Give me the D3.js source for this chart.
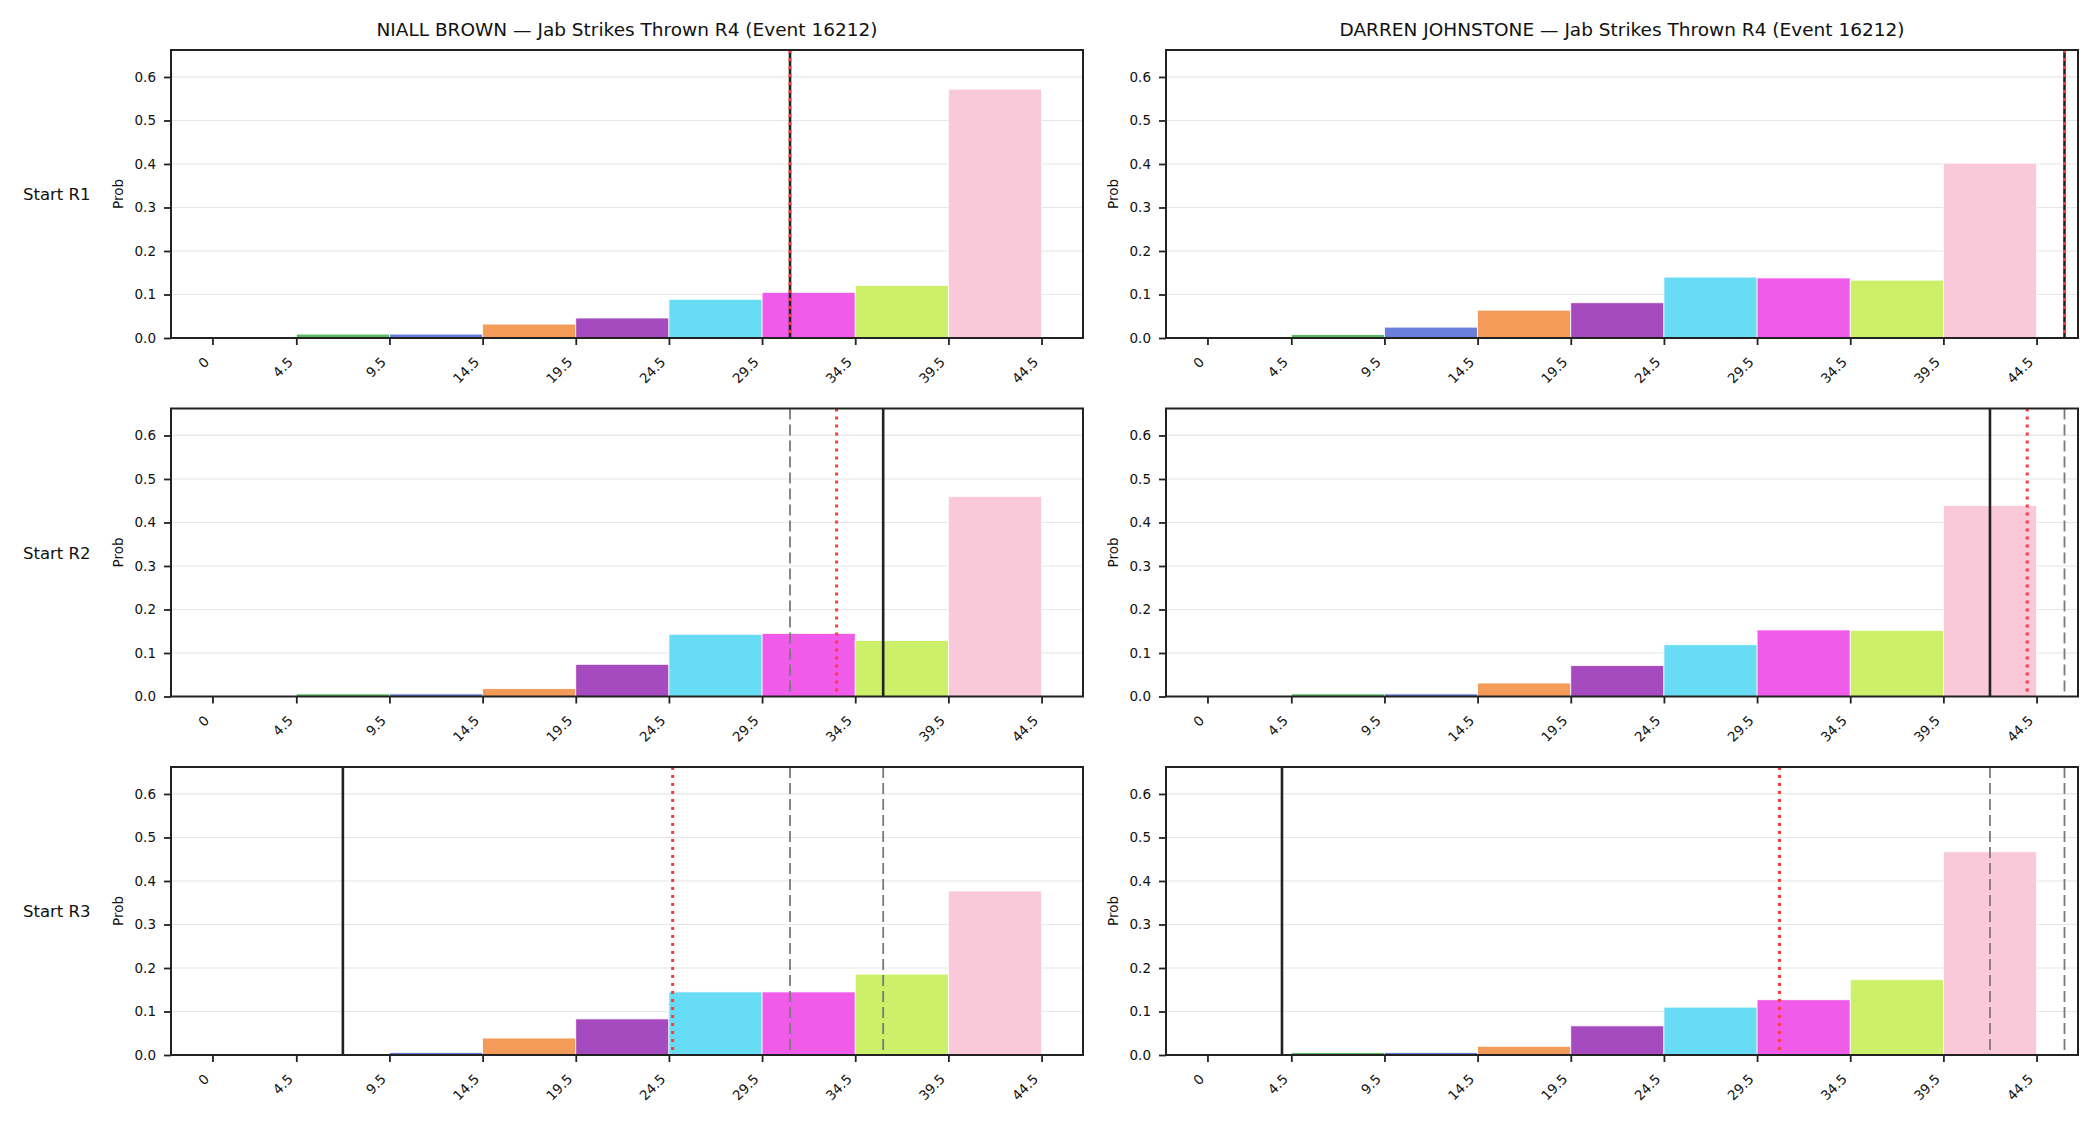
<!DOCTYPE html>
<html>
<head>
<meta charset="utf-8">
<script src="https://cdn.jsdelivr.net/npm/d3@7"></script>
<style>
    body { margin: 0; background: #fff; }
    svg { display: block; font-family: "DejaVu Sans", sans-serif; }
</style>
</head>
<body>
<div id="chart"></div>
<script>
// Bin edges of the histogram (first bin 0-4.5, then 5-wide bins)
const binEdges = [0, 4.5, 9.5, 14.5, 19.5, 24.5, 29.5, 34.5, 39.5, 44.5];
const tickValues = [0, 4.5, 9.5, 14.5, 19.5, 24.5, 29.5, 34.5, 39.5, 44.5];
const yTicks = [0, 0.1, 0.2, 0.3, 0.4, 0.5, 0.6];
const binColors = ["#9aa0a6", "#5dbb63", "#6a7fdb", "#f59b5a", "#a64bbf", "#68dbf5", "#f15bea", "#cdf06a", "#f9c9da"];

const fighters = ["NIALL BROWN", "DARREN JOHNSTONE"];
const rounds = ["Start R1", "Start R2", "Start R3"];

// Probability per bin, one list per fighter and round
const brownR1 = [0, 0.009, 0.009, 0.032, 0.046, 0.089, 0.105, 0.121, 0.572];
const brownR2 = [0, 0.006, 0.006, 0.018, 0.074, 0.143, 0.145, 0.129, 0.460];
const brownR3 = [0, 0, 0.006, 0.039, 0.083, 0.145, 0.145, 0.186, 0.377];
const johnstoneR1 = [0, 0.008, 0.025, 0.064, 0.081, 0.140, 0.138, 0.133, 0.402];
const johnstoneR2 = [0, 0.006, 0.006, 0.031, 0.071, 0.119, 0.153, 0.152, 0.439];
const johnstoneR3 = [0, 0.006, 0.006, 0.020, 0.067, 0.110, 0.127, 0.173, 0.467];

// Vertical markers: current line (solid) and projection (red dotted) per round
const brownCurrent = [31, 36, 7];
const brownProjected = [31, 33.5, 24.7];
const johnstoneCurrent = [46, 42, 4];
const johnstoneProjected = [46, 44, 30.7];

const probs = [[brownR1, brownR2, brownR3], [johnstoneR1, johnstoneR2, johnstoneR3]];
const currents = [brownCurrent, johnstoneCurrent];
const projections = [brownProjected, johnstoneProjected];

const width = 2100, height = 1125;
const colX = [171, 1166];
const rowY = [50, 408.5, 767];
const panelW = 912, panelH = 288;
const spineColor = "#222";

const svg = d3.select("#chart")
    .append("svg")
    .attr("width", width)
    .attr("height", height)
    .attr("viewBox", [0, 0, width, height]);

const x = d3.scaleLinear()
    .domain([-2.225, 46.725])
    .range([0, panelW]);

const y = d3.scaleLinear()
    .domain([0, 0.662])
    .range([panelH, 0]);

const drawPanel = (col, row) => {
    const data = probs[col][row];
    const bins = data.map((p, i) => ({
        x0: binEdges[i],
        x1: i + 1 < binEdges.length ? binEdges[i + 1] : binEdges[i] + 5,
        p,
        color: binColors[i]
    }));

    const g = svg.append("g")
        .attr("transform", `translate(${colX[col]},${rowY[row]})`);

    // horizontal grid
    g.append("g")
        .selectAll("line")
        .data(yTicks)
        .join("line")
        .attr("x1", 0)
        .attr("x2", panelW)
        .attr("y1", d => y(d))
        .attr("y2", d => y(d))
        .attr("stroke", "#e6e6e6")
        .attr("stroke-width", 1.2);

    // bars
    g.append("g")
        .selectAll("rect")
        .data(bins.filter(d => d.p > 0))
        .join("rect")
        .attr("x", d => x(d.x0))
        .attr("y", d => y(d.p))
        .attr("width", d => x(d.x1) - x(d.x0))
        .attr("height", d => y(0) - y(d.p))
        .attr("fill", d => d.color)
        .attr("stroke", "#fff")
        .attr("stroke-width", 0.8);

    // previous rounds' lines (gray dashed)
    const previous = currents[col].slice(0, row);
    g.append("g")
        .selectAll("line")
        .data(previous)
        .join("line")
        .attr("x1", d => x(d))
        .attr("x2", d => x(d))
        .attr("y1", 0)
        .attr("y2", panelH)
        .attr("stroke", "#7a7a7a")
        .attr("stroke-width", 1.8)
        .attr("stroke-dasharray", "11,5");

    // current line (solid)
    const cur = currents[col][row];
    g.append("line")
        .attr("x1", x(cur))
        .attr("x2", x(cur))
        .attr("y1", 0)
        .attr("y2", panelH)
        .attr("stroke", "#222")
        .attr("stroke-width", 2.6);

    // projection (red dotted)
    const proj = projections[col][row];
    g.append("line")
        .attr("x1", x(proj))
        .attr("x2", x(proj))
        .attr("y1", 0)
        .attr("y2", panelH)
        .attr("stroke", "#ff3b3b")
        .attr("stroke-width", 3)
        .attr("stroke-dasharray", "3,5");

    // y axis
    const yAxis = g.append("g")
        .call(d3.axisLeft(y).tickValues(yTicks).tickFormat(d3.format(".1f")).tickSize(7).tickPadding(8))
        .call(a => a.select(".domain").remove());
    yAxis.selectAll(".tick line").attr("stroke", spineColor).attr("stroke-width", 1.8);
    yAxis.selectAll(".tick text")
        .attr("font-family", "DejaVu Sans, sans-serif")
        .attr("font-size", 13.5)
        .attr("fill", "#111");

    // x axis
    const xAxis = g.append("g")
        .attr("transform", `translate(0,${panelH})`)
        .call(d3.axisBottom(x).tickValues(tickValues).tickFormat(d => String(d)).tickSize(7))
        .call(a => a.select(".domain").remove());
    xAxis.selectAll(".tick line").attr("stroke", spineColor).attr("stroke-width", 1.8);
    xAxis.selectAll(".tick text")
        .attr("font-family", "DejaVu Sans, sans-serif")
        .attr("font-size", 13.5)
        .attr("fill", "#111")
        .attr("text-anchor", "end")
        .attr("y", 0)
        .attr("dy", 0)
        .attr("transform", "translate(-3,25) rotate(-45)");

    // frame
    g.append("rect")
        .attr("x", 0)
        .attr("y", 0)
        .attr("width", panelW)
        .attr("height", panelH)
        .attr("fill", "none")
        .attr("stroke", spineColor)
        .attr("stroke-width", 2);

    // y label
    g.append("text")
        .attr("transform", `translate(-48.5,${panelH / 2}) rotate(-90)`)
        .attr("text-anchor", "middle")
        .attr("font-size", 13.5)
        .attr("fill", "#111")
        .text("Prob");

    if (row === 0) {
        g.append("text")
            .attr("x", panelW / 2)
            .attr("y", -14)
            .attr("text-anchor", "middle")
            .attr("font-size", 18.5)
            .attr("fill", "#111")
            .text(`${fighters[col]} — Jab Strikes Thrown R4 (Event 16212)`);
    }
};

// round labels at the left of each row
svg.append("g")
    .selectAll("text")
    .data(rounds)
    .join("text")
    .attr("x", 23)
    .attr("y", (d, i) => rowY[i] + panelH / 2 + 6)
    .attr("font-size", 16.5)
    .attr("fill", "#111")
    .text(d => d);

[0, 1].forEach(col => {
    [0, 1, 2].forEach(row => drawPanel(col, row));
});
</script>
</body>
</html>
